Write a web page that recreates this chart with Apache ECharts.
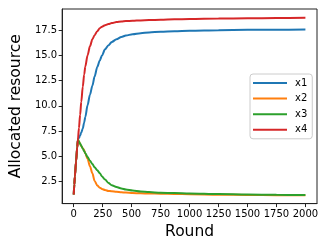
<!DOCTYPE html>
<html>
<head>
<meta charset="utf-8">
<script src="https://cdn.jsdelivr.net/npm/echarts@6/dist/echarts.min.js"></script>
<style>html,body{margin:0;padding:0;background:#fff}#c{width:327px;height:245px}</style>
</head>
<body>
<div id="c"></div>
<script>
const rounds = [0,5,10,20,30,36,45,55,65,78,90,100,119,140,161,180,203,225,244,270,300,328,369,411,450,508,578,650,750,869,1000,1250,1500,1750,2000];
const x1 = [1.2,2.2,3.0,4.5,5.9,6.64,6.8,7.05,7.35,7.75,8.35,8.9,10.05,11.1,12.0,12.9,13.85,14.5,15.0,15.6,16.0,16.33,16.6,16.83,16.97,17.1,17.2,17.28,17.35,17.4,17.45,17.5,17.53,17.55,17.56];
const x2 = [1.2,2.2,3.0,4.5,5.9,6.64,6.45,6.2,6.0,5.8,5.58,5.25,4.75,4.0,3.3,2.55,2.1,1.88,1.75,1.65,1.56,1.52,1.47,1.43,1.39,1.35,1.32,1.3,1.28,1.26,1.23,1.19,1.16,1.14,1.12];
const x3 = [1.2,2.2,3.0,4.5,5.9,6.64,6.45,6.25,6.03,5.75,5.5,5.3,4.91,4.55,4.22,3.9,3.6,3.3,3.0,2.68,2.35,2.12,1.94,1.8,1.7,1.6,1.5,1.44,1.38,1.34,1.3,1.24,1.2,1.17,1.15];
const x4 = [1.2,2.2,3.0,4.5,5.9,6.64,7.8,9.1,10.4,11.9,13.1,13.9,15.0,15.9,16.6,17.0,17.4,17.7,17.85,18.0,18.1,18.2,18.3,18.35,18.4,18.43,18.47,18.5,18.54,18.58,18.61,18.65,18.68,18.7,18.72];
const xTicks = [0,250,500,750,1000,1250,1500,1750,2000];
const yTicks = [2.5,5.0,7.5,10.0,12.5,15.0,17.5];
const names = ['x1','x2','x3','x4'];
const colors = ['#1f77b4','#ff7f0e','#2ca02c','#d62728'];
const seriesVals = [x1,x2,x3,x4];

const font = 'DejaVu Sans';
const chart = echarts.init(document.getElementById('c'), null, {renderer:'canvas'});
chart.setOption({
  animation:false,
  backgroundColor:'#fff',
  grid:{left:53,top:9,width:264,height:195,show:true,borderColor:'#222',borderWidth:1,containLabel:false},
  xAxis:{type:'value',min:-100,max:2100,
    name:'Round',nameLocation:'middle',nameGap:16,
    nameTextStyle:{fontFamily:font,fontSize:15.5,color:'#000'},
    axisLine:{show:true,onZero:false,lineStyle:{color:'#222',width:1}},
    axisTick:{show:true,length:3.5,inside:false,customValues:xTicks,lineStyle:{color:'#222'}},
    axisLabel:{customValues:xTicks,fontFamily:font,fontSize:10,color:'#000',margin:5.5,formatter:v=>String(v)},
    splitLine:{show:false}},
  yAxis:{type:'value',min:0.3,max:19.6,
    name:'Allocated resource',nameLocation:'middle',nameGap:24,
    nameTextStyle:{fontFamily:font,fontSize:15.5,color:'#000'},
    axisLine:{show:true,onZero:false,lineStyle:{color:'#222',width:1}},
    axisTick:{show:true,length:3.5,inside:false,customValues:yTicks,lineStyle:{color:'#222'}},
    axisLabel:{customValues:yTicks,fontFamily:font,fontSize:10,color:'#000',margin:5,formatter:v=>v.toFixed(1)},
    splitLine:{show:false}},
  legend:{orient:'vertical',left:250,top:74,icon:'rect',itemWidth:34,itemHeight:2,itemGap:3.6,
    padding:[3,5,3,3],borderColor:'#ccc',borderWidth:1,borderRadius:3,backgroundColor:'rgba(255,255,255,0.8)',
    textStyle:{fontFamily:font,fontSize:10,color:'#000',lineHeight:12,padding:[0,0,0,3]},
    data:names},
  series:names.map((n,i)=>({name:n,type:'line',showSymbol:false,symbol:'none',smooth:0.3,smoothMonotone:'x',
    color:colors[i],lineStyle:{width:2,color:colors[i]},
    data:rounds.map((r,j)=>[r,seriesVals[i][j]])}))
});
</script>
</body>
</html>
